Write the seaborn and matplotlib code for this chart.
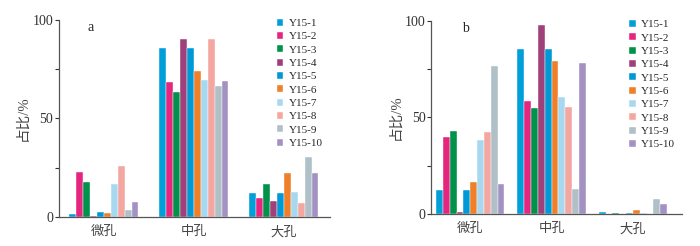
import numpy as np
import pandas as pd
import matplotlib
matplotlib.use("Agg")
import matplotlib.pyplot as plt
import seaborn as sns

pores = ["微孔", "中孔", "大孔"]
samples = ["Y15-1", "Y15-2", "Y15-3", "Y15-4", "Y15-5",
           "Y15-6", "Y15-7", "Y15-8", "Y15-9", "Y15-10"]

# 占比/% , rows = sample, columns = pore type
a_micro = [1.4, 22.7, 17.6, 0.7, 2.4, 2.0, 16.9, 25.8, 3.6, 7.6]
a_meso = [85.6, 68.3, 63.4, 90.3, 85.8, 74.1, 69.5, 90.5, 66.3, 69.2]
a_macro = [12.0, 9.5, 16.8, 8.3, 12.4, 22.5, 12.9, 6.9, 30.2, 22.2]

b_micro = [12.4, 39.8, 42.8, 1.2, 12.6, 16.6, 38.3, 42.6, 76.4, 15.7]
b_meso = [85.7, 58.4, 55.0, 98.1, 85.7, 79.1, 60.7, 55.5, 12.9, 78.3]
b_macro = [1.2, 0.2, 0.5, 0.0, 0.5, 2.1, 0.7, 0.0, 7.8, 5.3]

colors = ["#009fda", "#e5267f", "#00914a", "#a0407a", "#0099d6",
          "#f07f2a", "#a8d8f0", "#f4a6a0", "#afc0c8", "#a391c2"]


def make_df(micro, meso, macro):
    rows = []
    for vals, p in zip([micro, meso, macro], pores):
        for s, v in zip(samples, vals):
            rows.append({"pore": p, "sample": s, "value": v})
    return pd.DataFrame(rows)


sns.set_style("ticks")
plt.rcParams["font.family"] = ["Liberation Serif", "Noto Sans CJK SC"]

fig = plt.figure(figsize=(7.0, 2.46), dpi=100)
ax_a = fig.add_axes([0.084, 0.118, 0.387, 0.801])
ax_b = fig.add_axes([0.616, 0.130, 0.358, 0.785])

panels = [
    (ax_a, make_df(a_micro, a_meso, a_macro), "a", 0.77, (-0.5, 2.51), 0.105),
    (ax_b, make_df(b_micro, b_meso, b_macro), "b", 0.84, (-0.48, 2.6), 0.125),
]

for ax, df, tag, w, xl, tx in panels:
    sns.barplot(data=df, x="pore", y="value", hue="sample", palette=colors,
                width=w, gap=0, ax=ax, edgecolor="white", linewidth=0.3,
                saturation=1, errorbar=None)
    ax.set_xlim(*xl)
    ax.set_ylim(0, 100)
    ax.set_yticks([0, 25, 50, 75, 100])
    ax.set_yticklabels(["0", "", "50", "", "100"], fontsize=10)
    ax.set_xticks([0, 1, 2])
    ax.set_xticklabels(pores, fontsize=9.5,
                       family=["Noto Sans CJK SC", "DejaVu Sans"])
    ax.tick_params(axis="x", length=0, pad=6, colors="#444444")
    ax.tick_params(axis="y", length=3, width=0.8, pad=1, colors="#333333")
    ax.set_xlabel("")
    ax.set_ylabel("占比/%", fontsize=10.5,
                  family=["Liberation Serif", "Noto Sans CJK SC"],
                  color="#444444", labelpad=2)
    for sp in ["top", "right"]:
        ax.spines[sp].set_visible(False)
    for sp in ["left", "bottom"]:
        ax.spines[sp].set_color("#555555")
        ax.spines[sp].set_linewidth(0.9)
    ax.text(tx, 0.96, tag, transform=ax.transAxes, fontsize=10,
            ha="left", va="center")
    leg = ax.legend(loc="upper right", bbox_to_anchor=(1.0, 1.04),
                    frameon=False, fontsize=8, handlelength=0.6,
                    handleheight=0.6, handletextpad=0.5, labelspacing=0.35,
                    borderaxespad=0.2)

fig.savefig("out.png", dpi=100)
